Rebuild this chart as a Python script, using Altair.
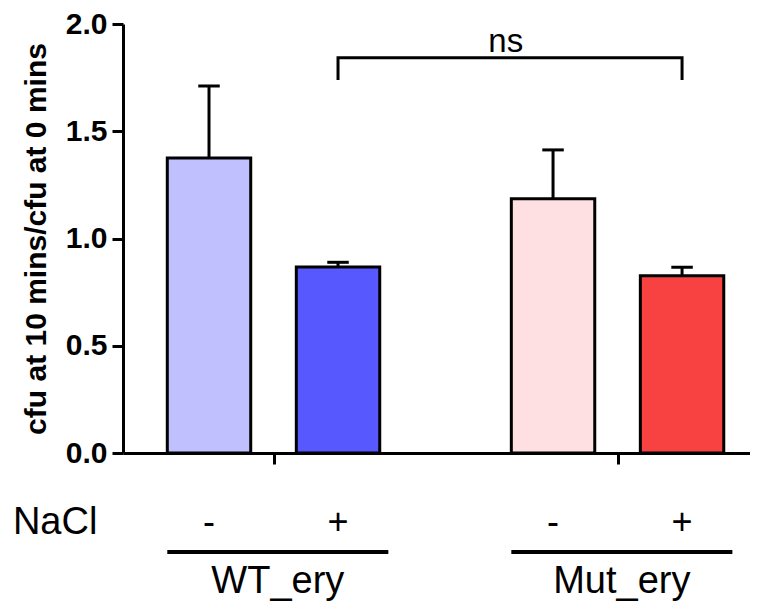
import altair as alt
import pandas as pd

# ---- data ----
groups = ["WT_ery", "WT_ery", "Mut_ery", "Mut_ery"]
nacl = ["-", "+", "-", "+"]
means = [1.375, 0.867, 1.185, 0.826]
sems = [0.336, 0.022, 0.228, 0.040]
colors = ["#C0C0FF", "#5858FF", "#FFE0E2", "#F84242"]
y_ticks = [0.0, 0.5, 1.0, 1.5, 2.0]
y_title = "cfu at 10 mins/cfu at 0 mins"
row_label = "NaCl"
sig_label = "ns"
sig_pair = [1, 3]  # indices of compared bars

# ---- layout (in bar-width units / y data units) ----
BAR_W = 0.97
WITHIN = 1.5
BETWEEN = 4.0
X_MAX = 7.29
Y_COND = -0.378
Y_LINE = -0.4615
Y_GROUP = -0.655
group_names = list(dict.fromkeys(groups))

xs, keys = [], []
counter = {}
for g, n in zip(groups, nacl):
    gi = group_names.index(g)
    ci = counter.get(g, 0)
    counter[g] = ci + 1
    xs.append(1.0 + gi * BETWEEN + ci * WITHIN)
    keys.append(f"{g} {n}")

df = pd.DataFrame({
    "key": keys, "group": groups, "nacl": nacl, "mean": means,
    "x": xs,
})
df["upper"] = df["mean"] + pd.Series(sems)
df["base"] = 0.0
df["xl"] = df["x"] - BAR_W / 2
df["xr"] = df["x"] + BAR_W / 2
df["cl"] = df["x"] - 0.125
df["cr"] = df["x"] + 0.125
df["ly"] = Y_COND

gdf = df.groupby("group", sort=False).agg(gx1=("xl", "min"), gx2=("xr", "max")).reset_index()
gdf["gx2"] = gdf["gx2"] + 0.1
gdf["lc"] = (gdf["gx1"] + gdf["gx2"]) / 2
gdf["tick"] = df.groupby("group", sort=False)["x"].mean().values
gdf["ly"] = Y_LINE
gdf["ty"] = Y_GROUP

xa, xb = xs[sig_pair[0]], xs[sig_pair[1]]
bracket = pd.DataFrame({
    "x": [xa, xa, xb, xb],
    "y": [1.739, 1.843, 1.843, 1.739],
    "o": [0, 1, 2, 3],
})
ns_df = pd.DataFrame({"t": [sig_label], "x": [(xa + xb) / 2 - 0.05], "y": [1.869]})
row_df = pd.DataFrame({"t": [row_label], "x": [-1.28], "y": [Y_COND]})

xscale = alt.Scale(domain=[0, X_MAX], nice=False, zero=False)
yscale = alt.Scale(domain=[0, 2], nice=False)

x_axis = alt.Axis(values=list(gdf["tick"]), labels=False, title=None, grid=False,
                  tickSize=11, tickWidth=3, domainWidth=3,
                  tickColor="black", domainColor="black")
y_axis = alt.Axis(values=y_ticks, format=".1f", title=y_title, grid=False,
                  labelFontSize=30, labelFontWeight="bold", labelColor="black",
                  titleFontSize=30, titleFontWeight="bold", titleColor="black",
                  tickSize=11, tickWidth=3, domainWidth=3,
                  tickColor="black", domainColor="black",
                  labelPadding=5, titlePadding=14)


def X(f):
    return alt.X(f, scale=xscale, axis=x_axis)


def Y(f):
    return alt.Y(f, scale=yscale, axis=y_axis)


base = alt.Chart(df)

bars = base.mark_bar(stroke="black", strokeWidth=3).encode(
    x=X("xl:Q"), x2="xr:Q", y=Y("mean:Q"), y2="base:Q",
    fill=alt.Fill("key:N", scale=alt.Scale(domain=keys, range=colors), legend=None),
)

err = base.mark_rule(color="black", strokeWidth=3).encode(
    x=X("x:Q"), y=Y("mean:Q"), y2="upper:Q")
caps = base.mark_rule(color="black", strokeWidth=3).encode(
    x=X("cl:Q"), x2="cr:Q", y=Y("upper:Q"))

cond_text = base.mark_text(fontSize=36, baseline="alphabetic", color="black").encode(
    x=X("x:Q"), y=Y("ly:Q"), text="nacl:N")

row_text = alt.Chart(row_df).mark_text(
    fontSize=38, baseline="alphabetic", align="left", color="black").encode(
    x=X("x:Q"), y=Y("y:Q"), text="t:N")

glines = alt.Chart(gdf).mark_rule(color="black", strokeWidth=4).encode(
    x=X("gx1:Q"), x2="gx2:Q", y=Y("ly:Q"))
gtext = alt.Chart(gdf).mark_text(fontSize=38, baseline="alphabetic", color="black").encode(
    x=X("lc:Q"), y=Y("ty:Q"), text="group:N")

br = alt.Chart(bracket).mark_line(color="black", strokeWidth=3, strokeJoin="miter").encode(
    x=X("x:Q"), y=Y("y:Q"), order="o:Q")
ns = alt.Chart(ns_df).mark_text(fontSize=33, baseline="alphabetic", color="black").encode(
    x=X("x:Q"), y=Y("y:Q"), text="t:N")

chart = alt.layer(err, caps, bars, cond_text, row_text, glines, gtext, br, ns).properties(
    width=627, height=429,
    autosize=alt.AutoSizeParams(type="none"),
    padding={"left": 115, "top": 16, "right": 0, "bottom": 150},
).configure(font="Liberation Sans").configure_view(stroke=None)

chart.save("out.html", embed_options={"renderer": "svg", "actions": False})
